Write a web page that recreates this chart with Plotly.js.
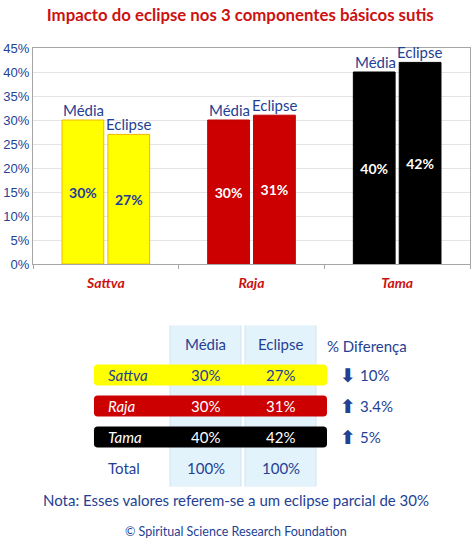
<!DOCTYPE html>
<html>
<head>
<meta charset="utf-8">
<script src="https://cdn.plot.ly/plotly-3.0.1.min.js"></script>
<style>html,body{margin:0;padding:0;background:#fff;}#chart{width:471px;height:556px;}</style>
</head>
<body>
<div id="chart"></div>
<script>
// ---- data ----
const categories = ['Sattva', 'Raja', 'Tama'];
const seriesNames = ['Média', 'Eclipse'];
const media = [30, 30, 40];
const eclipse = [27, 31, 42];
const diffDirection = ['down', 'up', 'up'];
const diffText = ['10%', '3.4%', '5%'];
const totalLabel = 'Total';
const totals = [100, 100];
const diffHeader = '% Diferença';
const titleText = 'Impacto do eclipse nos 3 componentes básicos sutis';
const noteText = 'Nota: Esses valores referem-se a um eclipse parcial de 30%';
const creditText = '© Spiritual Science Research Foundation';

// ---- styles ----
const barFill = ['#FFFF00', '#CC0000', '#000000'];
const barEdge = ['#EFB800', '#C00000', '#000000'];
const innerText = ['#1F3C96', '#FFFFFF', '#FFFFFF'];
const BLUE = '#243F94';
const RED = '#CC1111';
const FONT = 'Lato, "Open Sans", sans-serif';

const pct = v => v + '%';

const traces = [media, eclipse].map((vals, k) => ({
  type: 'bar',
  name: seriesNames[k],
  x: categories,
  y: vals,
  text: vals.map(pct),
  textposition: 'inside',
  insidetextanchor: 'middle',
  textangle: 0,
  textfont: {family: FONT, size: 14, weight: 'bold', color: innerText},
  marker: {color: barFill, line: {color: barEdge, width: 1}},
  hoverinfo: 'skip',
  cliponaxis: false
}));
// dummy trace so the table subplot exists
traces.push({type: 'scatter', x: [0], y: [0], xaxis: 'x2', yaxis: 'y2', mode: 'markers',
  marker: {opacity: 0}, hoverinfo: 'skip', showlegend: false});

const annotations = [];
// series labels above bars
[media, eclipse].forEach((vals, k) => {
  vals.forEach((v, i) => {
    annotations.push({x: categories[i], y: v, xref: 'x', yref: 'y', text: seriesNames[k],
      showarrow: false, yanchor: 'bottom', xshift: k === 0 ? -22 : 23, yshift: -1,
      font: {family: FONT, size: 15, color: BLUE}});
  });
});

// ---- table (x2: column index, y2: row index) ----
const shapes = [];
function rr(x0, x1, y0, y1, rx, ry) {
  return `M${x0 + rx},${y0} L${x1 - rx},${y0} Q${x1},${y0} ${x1},${y0 + ry} L${x1},${y1 - ry} Q${x1},${y1} ${x1 - rx},${y1} L${x0 + rx},${y1} Q${x0},${y1} ${x0},${y1 - ry} L${x0},${y0 + ry} Q${x0},${y0} ${x0 + rx},${y0} Z`;
}
// value column backgrounds
[1, 2].forEach(c => {
  shapes.push({type: 'rect', xref: 'x2', yref: 'y2', x0: c - 0.473, x1: c + 0.473, y0: -0.62, y1: 4.62,
    fillcolor: '#E3F3FC', line: {color: '#CFE4F0', width: 1}, layer: 'below'});
});
// row bands
categories.forEach((cat, i) => {
  const r = i + 1;
  shapes.push({type: 'path', xref: 'x2', yref: 'y2',
    path: rr(-0.487, 2.62, r - 0.34, r + 0.34, 0.05, 0.12),
    fillcolor: barFill[i], line: {width: 0}, layer: 'above'});
});
// header
seriesNames.forEach((s, k) => {
  annotations.push({x: k + 1, y: 0, xref: 'x2', yref: 'y2', text: s, showarrow: false,
    font: {family: FONT, size: 15, color: BLUE}});
});
annotations.push({x: 3.15, y: 0.05, xref: 'x2', yref: 'y2', text: diffHeader, showarrow: false,
  font: {family: FONT, size: 15, color: BLUE}});
// rows
categories.forEach((cat, i) => {
  const r = i + 1;
  const col = innerText[i];
  annotations.push({x: -0.33, y: r, xref: 'x2', yref: 'y2', text: cat, showarrow: false, xanchor: 'left',
    font: {family: FONT, size: 15, color: col, style: 'italic'}});
  annotations.push({x: 1, y: r, xref: 'x2', yref: 'y2', text: pct(media[i]), showarrow: false,
    font: {family: FONT, size: 15, color: col}});
  annotations.push({x: 2, y: r, xref: 'x2', yref: 'y2', text: pct(eclipse[i]), showarrow: false,
    font: {family: FONT, size: 15, color: col}});
  annotations.push({x: 2.9, y: r, xref: 'x2', yref: 'y2', text: diffDirection[i] === 'down' ? '⬇' : '⬆',
    showarrow: false, font: {family: 'DejaVu Sans', size: 19, color: BLUE, weight: 'bold'}});
  annotations.push({x: 3.03, y: r, xref: 'x2', yref: 'y2', text: diffText[i], showarrow: false, xanchor: 'left',
    font: {family: FONT, size: 15, color: BLUE}});
});
// total row
annotations.push({x: -0.33, y: 4, xref: 'x2', yref: 'y2', text: totalLabel, showarrow: false, xanchor: 'left',
  font: {family: FONT, size: 15, color: BLUE}});
totals.forEach((t, k) => {
  annotations.push({x: k + 1, y: 4, xref: 'x2', yref: 'y2', text: pct(t), showarrow: false,
    font: {family: FONT, size: 15, color: BLUE}});
});
// footer
annotations.push({x: 0.4645, y: 1 - 511 / 556, xref: 'paper', yref: 'paper', text: noteText, showarrow: false,
  font: {family: FONT, size: 15, color: BLUE}});
annotations.push({x: 0.4645, y: 1 - 541 / 556, xref: 'paper', yref: 'paper', text: creditText, showarrow: false,
  font: {family: FONT, size: 12.5, color: BLUE}});

const layout = {
  width: 471, height: 556,
  margin: {l: 33, r: 1, t: 0, b: 0},
  paper_bgcolor: '#FFFFFF', plot_bgcolor: '#FFFFFF',
  showlegend: false,
  barmode: 'group', bargap: 0.37, bargroupgap: 0.09,
  title: {text: titleText, xref: 'container', yref: 'container', x: 0.51, y: 1 - 15 / 556,
    xanchor: 'center', yanchor: 'middle', font: {family: FONT, size: 16.8, color: RED, weight: 'bold'}},
  xaxis: {domain: [0, 1], anchor: 'y', type: 'category', showline: true, mirror: true, linecolor: '#A6A6A6',
    linewidth: 1, ticks: 'outside', tickson: 'boundaries', ticklen: 4, tickcolor: '#A6A6A6',
    ticklabelstandoff: 6,
    tickfont: {family: FONT, size: 14, color: RED, style: 'italic', weight: 'bold'}, fixedrange: true},
  yaxis: {domain: [(556 - 264) / 556, (556 - 48) / 556], anchor: 'x', range: [0, 45], dtick: 5,
    ticksuffix: '%', showgrid: true, gridcolor: '#E4E4E4', showline: true, mirror: true, linecolor: '#A6A6A6',
    zeroline: false, ticks: '', tickfont: {family: 'Liberation Sans, Arial, sans-serif', size: 13, color: BLUE},
    fixedrange: true},
  xaxis2: {domain: [0, 1], anchor: 'y2', range: [-1.3, 4.5267], visible: false, fixedrange: true},
  yaxis2: {domain: [(556 - 486.6) / 556, (556 - 325.4) / 556], anchor: 'x2', range: [4.6, -0.6],
    visible: false, fixedrange: true},
  shapes: shapes,
  annotations: annotations
};

Plotly.newPlot('chart', traces, layout, {displayModeBar: false, staticPlot: true});
</script>
</body>
</html>
